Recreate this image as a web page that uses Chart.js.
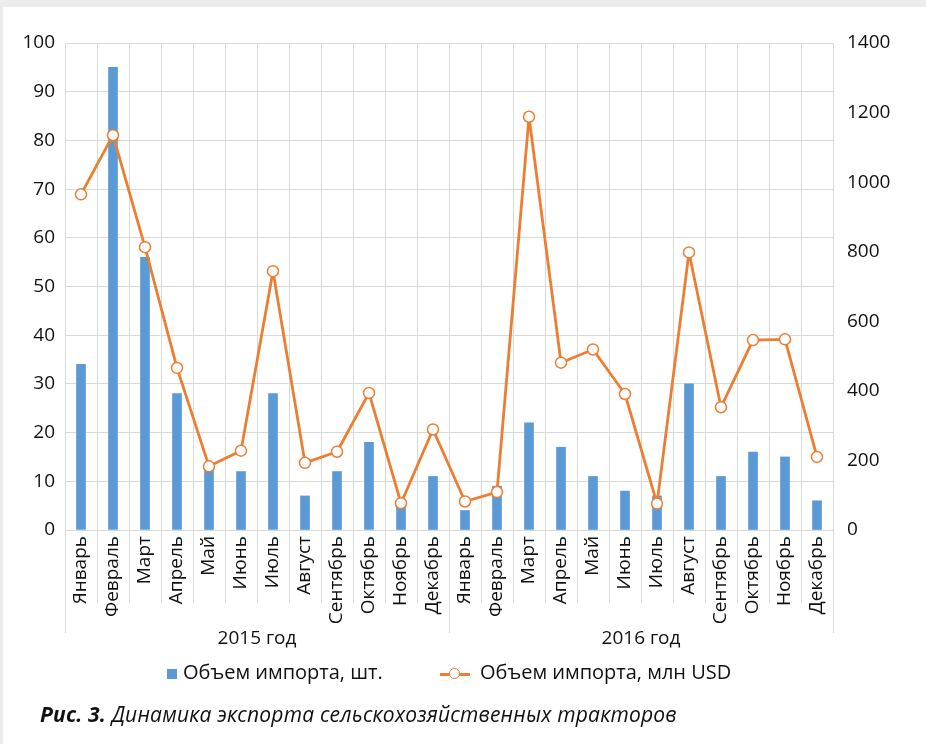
<!DOCTYPE html>
<html>
<head>
<meta charset="utf-8">
<script src="https://cdn.jsdelivr.net/npm/chart.js"></script>
<style>
  body { margin: 0; background: #ececec; }
  #wrap { position: absolute; left: 3px; top: 7px; width: 923px; height: 737px; background: #fff; }
  #c { position: absolute; left: -3px; top: -7px; }
  .leg { position: absolute; top: 651px; font-family: "Open Sans", sans-serif; font-size: 20px; color: #111; white-space: nowrap; }
  .sq { display: inline-block; width: 10px; height: 10px; background: #5B9BD5; vertical-align: middle; margin-right: 6px; }
  .ln { display: inline-block; position: relative; width: 30px; height: 12px; vertical-align: middle; margin-right: 10px; }
  .ln:before { content: ""; position: absolute; left: 0; right: 0; top: 5px; height: 3px; background: #ED7D31; }
  .ln:after { content: ""; position: absolute; left: 9px; top: 0; width: 9px; height: 9px; border: 1.5px solid #ED7D31; border-radius: 50%; background: #fff; }
  #cap { position: absolute; left: 37px; top: 693px; font-family: "Open Sans", sans-serif; font-style: italic; font-size: 21px; color: #111; letter-spacing: 0.2px; white-space: nowrap; }
</style>
</head>
<body>
<div id="wrap">
  <canvas id="c" width="926" height="744"></canvas>
  <div class="leg" style="left:164px"><span class="sq"></span>Объем импорта, шт.</div>
  <div class="leg" style="left:437px"><span class="ln"></span>Объем импорта, млн USD</div>
  <div id="cap"><b>Рис. 3.</b> Динамика экспорта сельскохозяйственных тракторов</div>
</div>
<script>
var months = ["Январь", "Февраль", "Март", "Апрель", "Май", "Июнь", "Июль", "Август", "Сентябрь", "Октябрь", "Ноябрь", "Декабрь"];
var xLabels = months.concat(months);
var yearLabels = ["2015 год", "2016 год"];

var unitsValues = [34, 95, 56, 28, 13, 12, 28, 7, 12, 18, 6, 11,
                   4, 9, 22, 17, 11, 8, 7, 30, 11, 16, 15, 6];
var usdValues = [965, 1135, 813, 466, 183, 228, 744, 193, 225, 394, 77, 289,
                 82, 109, 1188, 481, 519, 391, 76, 798, 353, 546, 548, 210];

var gridColor = "#d9d9d9";
var textColor = "#111";
var tickFont = { family: "Open Sans", size: 19 };

// separators between categories in the label area (two-level axis like Excel)
var separators = {
  id: "separators",
  afterDraw: function (chart) {
    var x = chart.scales.x;
    var ctx = chart.ctx;
    var n = xLabels.length;
    var step = x.width / n;
    ctx.save();
    ctx.strokeStyle = gridColor;
    ctx.lineWidth = 1;
    for (var i = 0; i <= n; i++) {
      var px = Math.round(x.left + i * step) + 0.5;
      var end = (i % 12 === 0) ? 633 : 603;
      ctx.beginPath();
      ctx.moveTo(px, chart.chartArea.bottom);
      ctx.lineTo(px, end);
      ctx.stroke();
    }
    ctx.restore();
  }
};

new Chart("c", {
  type: "bar",
  data: {
    labels: xLabels,
    datasets: [{
      type: "line",
      data: usdValues,
      yAxisID: "y1",
      borderColor: "#ED7D31",
      borderWidth: 2.8,
      borderJoinStyle: "round",
      pointRadius: 5.5,
      pointBorderWidth: 1.5,
      pointBackgroundColor: "#fff",
      pointBorderColor: "#ED7D31",
      tension: 0,
      order: 0
    }, {
      type: "bar",
      data: unitsValues,
      yAxisID: "y",
      backgroundColor: "#5B9BD5",
      barThickness: 9,
      order: 1
    }]
  },
  options: {
    responsive: false,
    animation: false,
    layout: { padding: { top: 43, bottom: 86, left: 0, right: 0 } },
    plugins: { legend: { display: false }, tooltip: { enabled: false } },
    scales: {
      x: {
        offset: true,
        grid: { offset: true, color: gridColor, drawTicks: false },
        border: { color: gridColor },
        ticks: { color: textColor, font: { family: "Open Sans", size: 19 }, minRotation: 90, maxRotation: 90, padding: 6, autoSkip: false },
        afterFit: function (s) { s.height = 95; }
      },
      x2: {
        type: "category",
        labels: yearLabels,
        position: "bottom",
        offset: true,
        grid: { display: false },
        border: { display: false },
        ticks: { color: textColor, font: tickFont, padding: -6 },
        afterFit: function (s) { s.height = 33; }
      },
      y: {
        position: "left",
        min: 0, max: 100,
        ticks: { stepSize: 10, color: textColor, font: tickFont, padding: 10 },
        grid: { color: gridColor, drawTicks: false },
        border: { color: gridColor },
        afterFit: function (s) { s.width = 65; }
      },
      y1: {
        position: "right",
        min: 0, max: 1400,
        ticks: { stepSize: 200, color: textColor, font: tickFont, padding: 14,
                 callback: function (v) { return String(v); } },
        grid: { drawOnChartArea: false, drawTicks: false },
        border: { display: false },
        afterFit: function (s) { s.width = 93; }
      }
    }
  },
  plugins: [separators]
});
</script>
</body>
</html>
